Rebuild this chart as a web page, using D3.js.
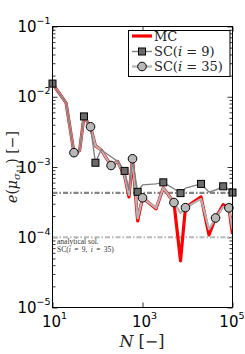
<!DOCTYPE html>
<meta charset="utf-8">
<style>
body { margin: 0; background: #fff; }
svg { display: block; }
</style>
<body>
<script src="https://d3js.org/d3.v7.min.js"></script>
<script>

var width = 245,
    height = 354;

// sample sizes and errors
var N      = [10, 20, 30, 40, 50, 70, 90, 120, 200, 280, 400, 500, 600, 780, 1000,
              2000, 2900, 5000, 7000, 9000, 20000, 30000, 42000, 62000, 83000, 100000];
var errMC  = [1.54e-2, 8.2e-3, 1.6e-3, 1.7e-3, 5.25e-3, 3.74e-3, 2.0e-3, 1.76e-3, 1.05e-3, 1.2e-3, 7.5e-4, 3.76e-4, 1.31e-3, 1.71e-4, 3.64e-4,
              2.54e-4, 5.05e-4, 3.12e-4, 4.6e-5, 2.64e-4, 3.76e-4, 1.08e-4, 1.88e-4, 2.9e-4, 2.62e-4, 1.11e-4];
var errSC35 = [1.54e-2, 8.2e-3, 1.6e-3, 1.7e-3, 5.25e-3, 3.74e-3, 2.0e-3, 1.76e-3, 1.05e-3, 1.2e-3, 7.5e-4, 4.0e-4, 1.31e-3, 1.85e-4, 3.64e-4,
              2.6e-4, 5.05e-4, 3.12e-4, 2.22e-4, 2.64e-4, 3.5e-4, 1.3e-4, 1.88e-4, 2.7e-4, 2.62e-4, 1.3e-4];
var errSC9 = [1.54e-2, 8.2e-3, 1.6e-3, 1.7e-3, 5.25e-3, 3.74e-3, 1.15e-3, 1.76e-3, 1.4e-3, 1.2e-3, 8.8e-4, 4.7e-4, 1.25e-3, 4.43e-4, 5.57e-4,
              5.75e-4, 6.05e-4, 4.9e-4, 4.25e-4, 5.0e-4, 5.75e-4, 4.4e-4, 4.7e-4, 5.31e-4, 4.8e-4, 4.33e-4];
var markSC9  = [0, 4, 6, 10, 13, 16, 18, 20, 23, 25];
var markSC35 = [2, 5, 8, 12, 14, 17, 19, 22, 24];
var analytic = [4.28e-4, 1.0e-4];   // SC(i=9), SC(i=35)
var xTicks = [1e1, 1e3, 1e5],
    xTickExp = ["1", "3", "5"];
var yTicks = [1e-5, 1e-4, 1e-3, 1e-2, 1e-1],
    yTickExp = ["\u22125", "\u22124", "\u22123", "\u22122", "\u22121"];

var svg = d3.select("body").append("svg")
    .attr("width", width)
    .attr("height", height);

var x = d3.scaleLog().domain([10, 1e5]).range([52.5, 232.5]);
var y = d3.scaleLog().domain([1e-5, 1e-1]).range([307.5, 26.5]);

svg.append("clipPath").attr("id", "plotclip")
  .append("rect")
    .attr("x", 52.5).attr("y", 26.5)
    .attr("width", 180).attr("height", 281);

// minor ticks for the log y axis
var yMinor = [];
for (var e = -5; e < -1; e++)
  for (var m = 2; m < 10; m++) yMinor.push(m * Math.pow(10, e));

function axisG(axis, tx, ty) {
  var g = svg.append("g").attr("transform", "translate(" + tx + "," + ty + ")").call(axis);
  g.select(".domain").remove();
  g.selectAll("line").attr("stroke", "#000").attr("stroke-width", 0.8);
  return g;
}
axisG(d3.axisLeft(y).tickValues(yMinor).tickSize(-3).tickFormat(""), 52.5, 0);
axisG(d3.axisLeft(y).tickValues(yTicks).tickSize(-5).tickFormat(""), 52.5, 0);
axisG(d3.axisRight(y).tickValues(yMinor).tickSize(-3).tickFormat(""), 232.5, 0);
axisG(d3.axisRight(y).tickValues(yTicks).tickSize(-5).tickFormat(""), 232.5, 0);
axisG(d3.axisBottom(x).tickValues(xTicks).tickSize(-5).tickFormat(""), 0, 307.5);
axisG(d3.axisTop(x).tickValues(xTicks).tickSize(-5).tickFormat(""), 0, 26.5);

// analytical solutions
svg.selectAll("line.analytic")
    .data(analytic)
  .enter().append("line")
    .attr("class", "analytic")
    .attr("x1", x(10)).attr("x2", x(1e5))
    .attr("y1", function(d) { return y(d); })
    .attr("y2", function(d) { return y(d); })
    .attr("stroke", function(d, i) { return i == 0 ? "#858585" : "#b8b8b8"; })
    .attr("stroke-width", 2.2)
    .attr("stroke-dasharray", "5,2,1.5,2");

var line = function(vals) {
  return d3.line()
    .x(function(d, i) { return x(N[i]); })
    .y(function(d) { return y(d); })(vals);
};

var plot = svg.append("g").attr("clip-path", "url(#plotclip)");
plot.append("path").attr("d", line(errMC))
    .attr("fill", "none").attr("stroke", "#ff0000").attr("stroke-width", 3.2)
    .attr("stroke-linejoin", "round");
plot.append("path").attr("d", line(errSC35))
    .attr("fill", "none").attr("stroke", "#b3b3b3").attr("stroke-width", 2.2)
    .attr("stroke-linejoin", "round");
plot.append("path").attr("d", line(errSC9))
    .attr("fill", "none").attr("stroke", "#808080").attr("stroke-width", 1.4)
    .attr("stroke-linejoin", "round");

svg.selectAll("rect.sq")
    .data(markSC9)
  .enter().append("rect")
    .attr("class", "sq")
    .attr("x", function(i) { return x(N[i]) - 3.5; })
    .attr("y", function(i) { return y(errSC9[i]) - 3.5; })
    .attr("width", 7).attr("height", 7)
    .attr("fill", "#6b6b6b").attr("stroke", "#000").attr("stroke-width", 1);

svg.selectAll("circle.ci")
    .data(markSC35)
  .enter().append("circle")
    .attr("class", "ci")
    .attr("cx", function(i) { return x(N[i]); })
    .attr("cy", function(i) { return y(errSC35[i]); })
    .attr("r", 4.3)
    .attr("fill", "#b8b8b8").attr("stroke", "#000").attr("stroke-width", 1);

// frame
svg.append("rect")
    .attr("x", 52.5).attr("y", 26.5).attr("width", 180).attr("height", 281)
    .attr("fill", "none").attr("stroke", "#000").attr("stroke-width", 1);

// tick labels
var yl = svg.selectAll("text.ylab").data(yTicks).enter().append("text")
    .attr("class", "ylab")
    .attr("x", 50.5)
    .attr("y", function(d) { return y(d) + 5.5; })
    .attr("text-anchor", "end")
    .style("font-family", "DejaVu Sans")
    .style("font-size", "15px")
    .text("10");
yl.append("tspan").attr("dy", -8).style("font-size", "9.5px")
    .text(function(d, i) { return yTickExp[i]; });

var xl = svg.selectAll("text.xlab").data(xTicks).enter().append("text")
    .attr("class", "xlab")
    .attr("x", function(d, i) { return i == xTicks.length - 1 ? 244.5 : x(d) + 2; })
    .attr("y", 327)
    .attr("text-anchor", function(d, i) { return i == xTicks.length - 1 ? "end" : "middle"; })
    .style("font-family", "DejaVu Sans")
    .style("font-size", "15px")
    .text("10");
xl.append("tspan").attr("dy", -8).style("font-size", "9.5px")
    .text(function(d, i) { return xTickExp[i]; });

// axis titles
var xt = svg.append("text")
    .attr("x", 142).attr("y", 347)
    .attr("text-anchor", "middle")
    .style("font-family", "DejaVu Serif")
    .style("font-size", "16px").attr("fill", "#222");
xt.append("tspan").style("font-style", "italic").text("N");
xt.append("tspan").text(" [\u2212]");

var yt = svg.append("text")
    .attr("transform", "translate(17,167) rotate(-90)")
    .attr("text-anchor", "middle")
    .style("font-family", "DejaVu Serif")
    .style("font-size", "14px").attr("fill", "#222");
yt.append("tspan").style("font-style", "italic").text("e");
yt.append("tspan").text("(");
yt.append("tspan").style("font-style", "italic").text("\u03bc");
yt.append("tspan").style("font-style", "italic").style("font-size", "10px").attr("dy", 3).text("\u03c3");
yt.append("tspan").style("font-size", "7.5px").attr("dy", 2).text("11");
yt.append("tspan").attr("dy", -5).text(")");
yt.append("tspan").text(" [\u2212]");

// annotation
svg.append("text")
    .attr("x", 57).attr("y", 244)
    .style("font-family", "Liberation Serif").style("font-size", "7.5px")
    .attr("fill", "#333")
    .text("analytical sol.");
var an = svg.append("text")
    .attr("x", 57).attr("y", 252)
    .style("font-family", "Liberation Serif").style("font-size", "7.5px")
    .style("word-spacing", "1.5px")
    .attr("fill", "#333");
an.append("tspan").text("SC(");
an.append("tspan").style("font-style", "italic").text("i");
an.append("tspan").text(" = 9, ");
an.append("tspan").style("font-style", "italic").text("i");
an.append("tspan").text(" = 35)");

// legend
var lg = svg.append("g");
lg.append("rect")
    .attr("x", 128.5).attr("y", 30.5).attr("width", 101.5).attr("height", 46)
    .attr("fill", "#fff").attr("stroke", "#000").attr("stroke-width", 1);
var legY = [36, 51.5, 66.5];
lg.append("line").attr("x1", 132).attr("x2", 152).attr("y1", legY[0]).attr("y2", legY[0])
    .attr("stroke", "#ff0000").attr("stroke-width", 3.2);
lg.append("line").attr("x1", 132).attr("x2", 152).attr("y1", legY[1]).attr("y2", legY[1])
    .attr("stroke", "#808080").attr("stroke-width", 1.4);
lg.append("rect").attr("x", 142 - 3.5).attr("y", legY[1] - 3.5).attr("width", 7).attr("height", 7)
    .attr("fill", "#6b6b6b").attr("stroke", "#000");
lg.append("line").attr("x1", 132).attr("x2", 152).attr("y1", legY[2]).attr("y2", legY[2])
    .attr("stroke", "#b3b3b3").attr("stroke-width", 2.2);
lg.append("circle").attr("cx", 142).attr("cy", legY[2]).attr("r", 4.3)
    .attr("fill", "#b8b8b8").attr("stroke", "#000");

var legText = [["MC"], ["SC(", "i", " = 9)"], ["SC(", "i", " = 35)"]];
legText.forEach(function(parts, k) {
  var t = lg.append("text")
      .attr("x", 154).attr("y", legY[k] + 4.5)
      .style("font-family", "DejaVu Serif").style("font-size", "13px")
      .attr("fill", "#222");
  parts.forEach(function(p, j) {
    t.append("tspan").style("font-style", j == 1 ? "italic" : "normal").text(p);
  });
});

</script>
